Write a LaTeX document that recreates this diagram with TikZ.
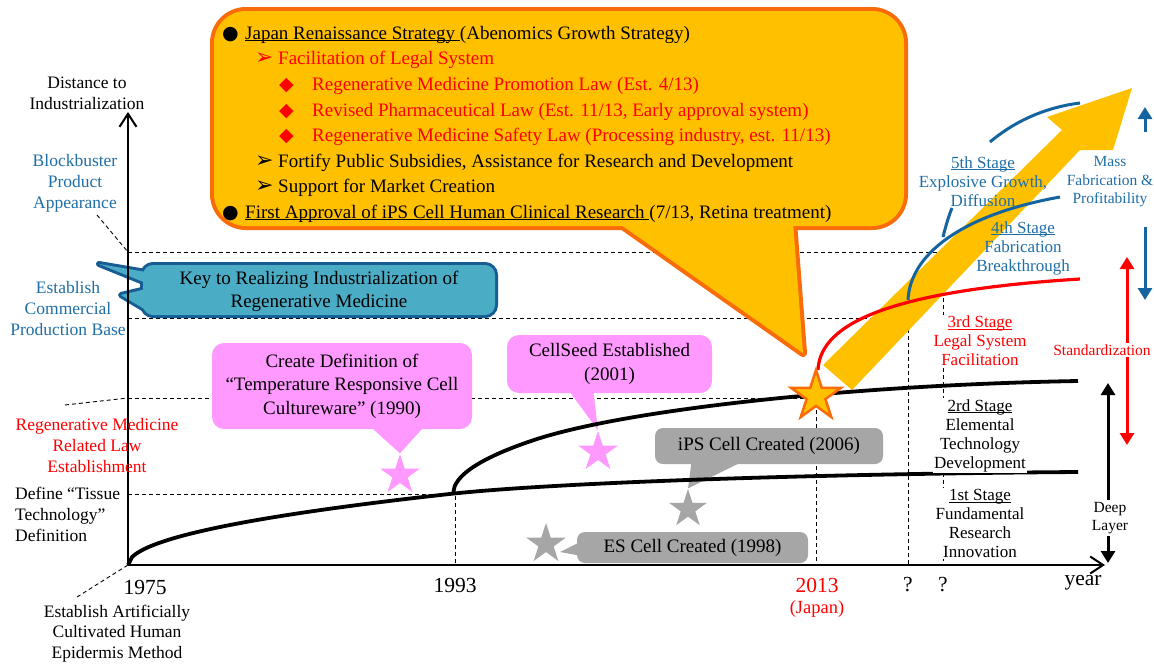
\documentclass[tikz,border=0pt]{standalone}
\usepackage{fontspec}
\setmainfont{Liberation Serif}
\newfontfamily\symf{DejaVu Sans}
\usetikzlibrary{arrows.meta,shapes.geometric}
\definecolor{gold}{RGB}{255,192,0}
\definecolor{orng}{RGB}{250,108,10}
\definecolor{bluet}{RGB}{31,110,166}
\definecolor{bluel}{RGB}{20,100,160}
\definecolor{bluec}{RGB}{75,172,198}
\definecolor{blueb}{RGB}{24,92,148}
\definecolor{pinkc}{RGB}{255,153,255}
\definecolor{grayc}{RGB}{166,166,166}
\definecolor{redc}{RGB}{255,0,0}
\newcommand\szA{\fontsize{17.5}{21}\selectfont}
\newcommand\szE{\fontsize{17.5}{20.3}\selectfont}
\newcommand\szB{\fontsize{19}{23.5}\selectfont}
\newcommand\szC{\fontsize{21.5}{24}\selectfont}
\newcommand\szD{\fontsize{15.5}{18.5}\selectfont}
\newcommand\szS{\fontsize{17}{19}\selectfont}
\newcommand\szJ{\fontsize{18.5}{20}\selectfont}
\newcommand\myul[1]{\setbox0\hbox{#1}\rlap{\rule[-2pt]{\wd0}{0.9pt}}\box0}
\newcommand\arrbul{{\symf\fontsize{22}{22}\selectfont ➢}}
\begin{document}
\begin{tikzpicture}[x=1pt,y=-1pt,
 guide/.style={line width=0.9pt, dash pattern=on 4pt off 3pt},
 axisln/.style={line width=2pt, -{Straight Barb[length=13pt,width=17pt]}},
 bcurve/.style={line width=3.8pt},
 lbl/.style={font=\szA, align=center, inner sep=0pt},
 mlbl/.style={lbl, yshift=-2pt},
 stage/.style={font=\szS, align=center, inner sep=1pt, yshift=-2pt},
 ytxt/.style={font=\szB, inner sep=0pt, anchor=base west},
 ctxt/.style={font=\szB, align=center, inner sep=0pt, yshift=-1.5pt},
 pinkbox/.style={fill=pinkc, rounded corners=12pt, font=\szB, align=center, inner sep=0pt},
 graybox/.style={fill=grayc, rounded corners=8pt, font=\szB, align=center, inner sep=0pt},
 starn/.style={star, star points=5, star point ratio=2.618, inner sep=0pt, minimum size=#1},
 tri/.style={-{Triangle[length=12pt,width=14pt]}},
 tritwo/.style={{Triangle[length=12pt,width=14pt]}-{Triangle[length=12pt,width=14pt]}},
 ]
\useasboundingbox (0,0) rectangle (1154,664);

% ---- key coordinates
\coordinate (O) at (128,565);
\coordinate (ytop) at (128,112);
\coordinate (xend) at (1105,565);
\coordinate (g252) at (128,252);
\coordinate (g318) at (128,318);
\coordinate (g398) at (128,398);
\coordinate (g494) at (128,494);
\coordinate (lead1) at (97,215);
\coordinate (lead2) at (65,405);
\coordinate (lead3) at (77,597);

% ---- dashed guides
\draw[guide] (g252) -- (943,252) -- (943,565);
\draw[guide] (g318) -- (908,318) -- (908,565);
\draw[guide] (g398) -- (816,398) -- (816,565);
\draw[guide] (g494) -- (455,494) -- (455,565);
\draw[guide] (lead1) -- (g252);
\draw[guide] (lead2) -- (g398);
\draw[guide] (lead3) -- (O);

% ---- yellow callout
\draw[orng, line width=8pt, line join=round, fill=gold] (617,222) -- (803,353) -- (793,222) -- cycle;
\draw[orng, line width=8pt, fill=gold, rounded corners=32pt] (214,11) rectangle (904,226);
\fill[gold] (617,222) -- (803,353) -- (793,222) -- cycle;
\fill[gold, rounded corners=32pt] (214,11) rectangle (904,226);

% ---- blue callout
\draw[blueb, line width=6pt, line join=round, fill=bluec] (146,272) -- (99,264) -- (146,283) -- cycle;
\draw[blueb, line width=6pt, line join=round, fill=bluec] (146,289) -- (121,295) -- (146,310) -- cycle;
\draw[blueb, line width=6pt, fill=bluec, rounded corners=10pt] (143,265) rectangle (495,315);
\fill[bluec] (146,272) -- (99,264) -- (146,283) -- cycle;
\fill[bluec] (146,289) -- (121,295) -- (146,310) -- cycle;
\fill[bluec, rounded corners=10pt] (143,265) rectangle (495,315);
\node[ctxt] (keyc) at (319,290) {Key to Realizing Industrialization of\\Regenerative Medicine};

% ---- pink and gray callouts
\node[starn=42pt, fill=pinkc] (s1) at (400,475) {};
\fill[pinkc] (363,420) -- (s1.outer point 1) -- (430,420) -- cycle;
\node[pinkbox, minimum width=260pt, minimum height=86pt] (c1) at (342,386) {\raisebox{-2pt}{\parbox{258pt}{\centering Create Definition of\\“Temperature Responsive Cell\\Cultureware” (1990)}}};

\node[starn=42pt, fill=pinkc] (s2) at (598,452) {};
\fill[pinkc] (567,388) -- (s2.outer point 1) -- (593,388) -- cycle;
\node[pinkbox, minimum width=205pt, minimum height=58pt] (c2) at (609.5,364) {\raisebox{-1.5pt}{\parbox{200pt}{\centering CellSeed Established\\(2001)}}};

\node[starn=40pt, fill=grayc] (s3) at (688,509) {};
\fill[grayc] (692,458) -- (s3.outer point 1) -- (750,458) -- cycle;
\node[graybox, minimum width=228pt, minimum height=36pt] (c3) at (769,446) {iPS Cell Created (2006)};

\node[starn=42pt, fill=grayc] (s4) at (546,544) {};
\coordinate (s4tip) at (560,552);
\fill[grayc] (582,541) -- (s4tip) -- (582,556) -- cycle;
\node[graybox, minimum width=231pt, minimum height=31pt] (c4) at (692.5,547.5) {ES Cell Created (1998)};

% ---- big yellow arrow
\draw[bluel, line width=3pt] (990,142) .. controls (1010,125) and (1040,108) .. (1080,103);
\fill[gold] (823,365) -- (1062,130) -- (1047,117) -- (1132,88) -- (1113,150) -- (1080,150) -- (852,390) -- cycle;

% ---- axes
\draw[axisln] (O) -- (ytop);
\draw[axisln] (O) -- (xend);

% ---- curves
\draw[bcurve] plot[domain=0:325, samples=80, variable=\t] ({128+\t},{565-3.96*sqrt(\t)}) .. controls (553,483) and (800,474) .. (1078,472);
\draw[bcurve] plot[domain=0:80, samples=50, variable=\t] ({453+\t},{494-6*sqrt(\t)}) .. controls (623,410) and (850,385) .. (1078,381);
\draw[redc, line width=3.2pt] (818,370) .. controls (820,330) and (870,292) .. (1080,279);
\draw[bluel, line width=3pt] (908,300) .. controls (910,255) and (960,215) .. (1060,197);
\draw[bluel, line width=3pt] (943,237) .. controls (946,225) and (949,215) .. (952,208);

\node[starn=52pt, fill=gold, draw=orng, line width=2.5pt] (s5) at (816,396) {};

% ---- yellow callout text
\node[ytxt] (y1) at (222,39) {\makebox[23pt][l]{\symf ●}\myul{Japan Renaissance Strategy }(Abenomics Growth Strategy)};
\node[ytxt, text=redc] (y2) at (255,64) {\makebox[23pt][l]{\arrbul}Facilitation of Legal System};
\node[ytxt, text=redc] (y3) at (279,90) {\makebox[33pt][l]{\symf ◆}Regenerative Medicine Promotion Law (Est. 4/13)};
\node[ytxt, text=redc] (y4) at (279,116) {\makebox[33pt][l]{\symf ◆}Revised Pharmaceutical Law (Est. 11/13, Early approval system)};
\node[ytxt, text=redc] (y5) at (279,141) {\makebox[33pt][l]{\symf ◆}Regenerative Medicine Safety Law (Processing industry, est. 11/13)};
\node[ytxt] (y6) at (255,167) {\makebox[23pt][l]{\arrbul}Fortify Public Subsidies, Assistance for Research and Development};
\node[ytxt] (y7) at (255,192) {\makebox[23pt][l]{\arrbul}Support for Market Creation};
\node[ytxt] (y8) at (222,218) {\makebox[23pt][l]{\symf ●}\myul{First Approval of iPS Cell Human Clinical Research }(7/13, Retina treatment)};

% ---- left labels
\node[mlbl] (ldist) at (87,91.5) {Distance to\\Industrialization};
\node[mlbl, text=bluet] (lblock) at (75,181.5) {Blockbuster\\Product\\Appearance};
\node[mlbl, text=bluet] (lcomm) at (68,306.5) {Establish\\Commercial\\Production Base};
\node[mlbl, text=redc] (llaw) at (97,443.5) {Regenerative Medicine\\Related Law\\Establishment};
\node[mlbl, align=left, anchor=west] (ltiss) at (15,512) {Define “Tissue\\Technology”\\Definition};
\node[lbl, font=\szE] (lepi) at (117,633.5) {Establish Artificially\\Cultivated Human\\Epidermis Method};

% ---- axis labels
\node[lbl, font=\szC] (x1975) at (145,587) {1975};
\node[lbl, font=\szC] (x1993) at (455,585) {1993};
\node[lbl, font=\szC, text=redc] (x2013) at (817,585) {2013};
\node[lbl, font=\szJ, text=redc] (xjap) at (817,609) {(Japan)};
\node[lbl, font=\szC] (xq1) at (908,585) {?};
\node[lbl, font=\szC] (xq2) at (943,585) {?};
\node[lbl, font=\szC] (xyear) at (1083,583) {year};

% ---- stage labels
\node[stage, text=bluet] (st5) at (983,179.5) {\myul{5th Stage}\\Explosive Growth,\\Diffusion};
\node[stage, text=bluet] (st4) at (1023,246.3) {\myul{4th Stage}\\Fabrication\\Breakthrough};
\node[stage, text=redc, fill=white] (st3) at (980,338.7) {\myul{3rd Stage}\\Legal System\\Facilitation};
\node[stage, fill=white] (st2) at (980,433.5) {\myul{2rd Stage}\\Elemental\\Technology\\Development};
\node[stage, fill=white] (st1) at (980,521.5) {\myul{1st Stage}\\Fundamental\\Research\\Innovation};

% ---- right arrows
\coordinate (bu1) at (1145,132); \coordinate (bu2) at (1145,107);
\coordinate (bd1) at (1145,227); \coordinate (bd2) at (1145,300);
\draw[bluel, line width=3pt, tri] (bu1) -- (bu2);
\draw[bluel, line width=3pt, tri] (bd1) -- (bd2);
\node[lbl, font=\szD, text=bluet, yshift=-1.5pt] (mass) at (1110,180.5) {Mass\\Fabrication \&\\Profitability};
\coordinate (ru) at (1127,257); \coordinate (rd) at (1127,445);
\draw[redc, line width=3pt, tritwo] (rd) -- (ru);
\node[lbl, font=\szD, text=redc, fill=white, inner sep=2pt] (stdz) at (1102,350) {Standardization};
\coordinate (ku) at (1108,383); \coordinate (kd) at (1108,563);
\draw[line width=3pt, tritwo] (kd) -- (ku);
\node[lbl, font=\szD, fill=white, inner sep=2pt, yshift=-1.5pt] (deep) at (1110,516.5) {Deep\\Layer};
\end{tikzpicture}
\end{document}
